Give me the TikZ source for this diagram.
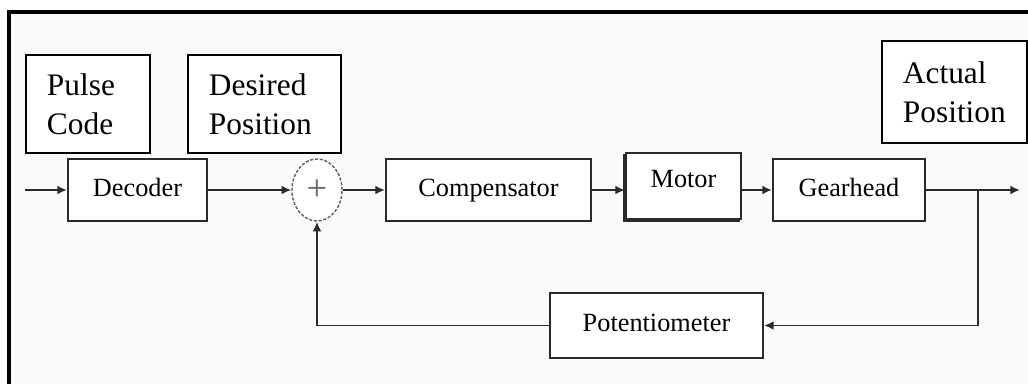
\documentclass[tikz,border=0pt]{standalone}
\usepackage{fontspec}
\setmainfont{Liberation Serif}
\usetikzlibrary{positioning,arrows.meta,shapes.geometric,shadows}
\definecolor{pagebg}{HTML}{FAF9FC}
\definecolor{linegray}{HTML}{2A2A2A}

\begin{document}
\begin{tikzpicture}[
  x=0.025cm, y=-0.025cm,
  blk/.style={
    draw=linegray, line width=1.4pt, fill=white,
    minimum height=1.55cm, inner sep=0pt,
    font=\fontsize{18.7}{22}\selectfont,
    text height=0.95em, text depth=0.07em
  },
  tag/.style={
    draw=black, line width=1pt, fill=white,
    align=left, inner xsep=0.525cm, inner ysep=0pt,
    font=\fontsize{22.3}{27.6}\selectfont
  },
  sig/.style={-{Latex[length=0.24cm,width=0.22cm]}, line width=1.4pt, draw=linegray},
  wire/.style={line width=1.4pt, draw=linegray}
]
  \useasboundingbox (0,0) rectangle (1028,383);

  % --- Cadre ---
  \fill[pagebg] (9,12) rectangle (1040,400);
  \draw[line width=2.2pt] (9,400) -- (9,12) -- (1040,12);

  % --- Etiquettes ---
  \node[tag, text width=2.05cm, minimum height=2.45cm] (pulse) at (88,104)
    {Pulse\\Code};
  \node[tag, text width=2.775cm, minimum height=2.45cm] (desired) at (264.5,104)
    {Desired\\Position};
  \node[tag, text width=2.575cm, minimum height=2.55cm] (actual) at (954.5,92)
    {Actual\\Position};

  % --- Blocs ---
  \node[blk, minimum width=3.475cm] (dec)  at (137.5,190) {Decoder};
  \node[draw=linegray!75, dash pattern=on 2.2pt off 1.2pt, line width=1pt,
        ellipse, fill=white, inner sep=0pt,
        minimum width=1.25cm, minimum height=1.55cm,
        font=\fontsize{26}{26}\selectfont, text=black!60] (sum) at (317,190) {+};
  \node[blk, minimum width=5.125cm] (comp) at (488.5,190) {Compensator};
  \node[blk, minimum width=2.875cm, minimum height=1.65cm,
        text height=0.7em, text depth=0.48em,
        copy shadow={shadow xshift=-0.04cm, shadow yshift=-0.05cm}] (mot) at (683.5,186) {Motor};
  \node[blk, minimum width=3.8cm] (gear) at (849,190) {Gearhead};
  \node[blk, minimum width=5.325cm, minimum height=1.625cm] (pot) at (656.5,325.5) {Potentiometer};

  % --- Points libres ---
  \coordinate (in)  at (25,190);
  \coordinate (out) at (1020,190);
  \coordinate (tap) at (978,190);

  % --- Fleches ---
  \draw[sig] (in) -- (dec);
  \draw[sig] (dec) -- (sum);
  \draw[sig] (sum) -- (comp);
  \draw[sig] (comp.east) -- (comp.east -| mot.west);
  \draw[sig] (gear.west -| mot.east) -- (gear.west);
  \draw[sig] (gear) -- (out);

  % retour par le potentiometre
  \draw[sig] (tap) |- (pot);
  \draw[sig] (pot) -| (sum);

\end{tikzpicture}
\end{document}
